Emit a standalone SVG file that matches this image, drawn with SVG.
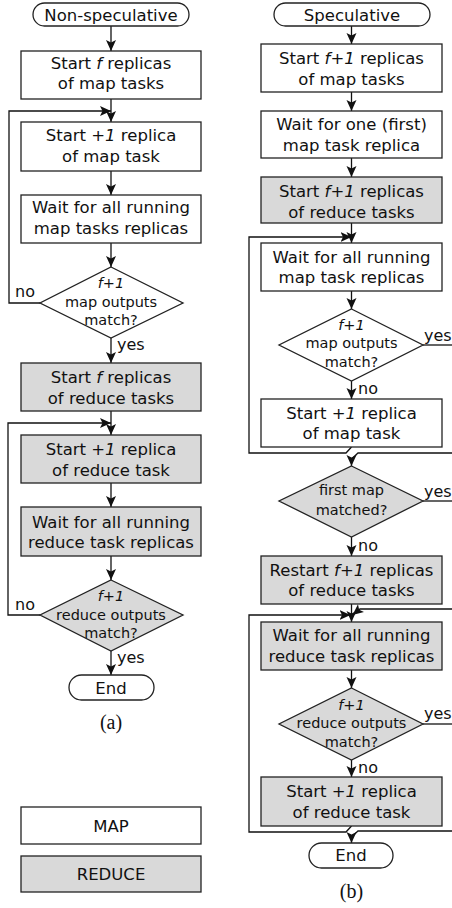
<svg xmlns="http://www.w3.org/2000/svg" width="452" height="908" viewBox="0 0 452 908">
<defs>
<marker id="ah" markerUnits="userSpaceOnUse" markerWidth="12" markerHeight="11" refX="11" refY="5" orient="auto" viewBox="0 0 12 11">
<path d="M0,0 L11,5 L0,10 L2.5,5 z" fill="#111"/>
</marker>
<style>
.b{fill:#fff;stroke:#222;stroke-width:1.3}
.g{fill:#d9d9d9;stroke:#222;stroke-width:1.3}
.t{font-family:"DejaVu Sans",sans-serif;font-size:16.5px;fill:#111;text-anchor:middle}
.d{font-family:"DejaVu Sans",sans-serif;font-size:14.5px;fill:#111;text-anchor:middle}
.l{font-family:"DejaVu Sans",sans-serif;font-size:16px;fill:#111}
.cap{font-family:"Liberation Serif",serif;font-size:20px;fill:#111;text-anchor:middle}
.c{fill:none;stroke:#111;stroke-width:1.3}
.a{marker-end:url(#ah)}
</style>
</defs>
<g id="connectors">
<path class="c a" d="M111,26 V51"/>
<path class="c a" d="M111,99 V122"/>
<path class="c a" d="M111,171 V195"/>
<path class="c a" d="M111,243 V267"/>
<path class="c a" d="M40,303 H9 V111 H111"/>
<path class="c a" d="M111,338 V363"/>
<path class="c a" d="M111,411 V435"/>
<path class="c a" d="M111,483 V507"/>
<path class="c a" d="M111,556 V580"/>
<path class="c a" d="M40,615 H8 V423 H111"/>
<path class="c a" d="M111,651 V675"/>
<path class="c a" d="M351.5,26 V44"/>
<path class="c a" d="M351.5,92 V111"/>
<path class="c a" d="M351.5,158 V177"/>
<path class="c a" d="M351.5,223 V243"/>
<path class="c a" d="M351.5,291 V309"/>
<path class="c" d="M423,345 H452"/>
<path class="c a" d="M351.5,381 V399"/>
<path class="c a" d="M351.5,447 L346,453 H249 V237 H351.5"/>
<path class="c a" d="M452,453 H358 L351.5,459 V466"/>
<path class="c" d="M423,501 H452"/>
<path class="c a" d="M351.5,537 V556"/>
<path class="c a" d="M351.5,604 V622"/>
<path class="c a" d="M452,609 H360 L352.5,615"/>
<path class="c a" d="M351.5,670 V688"/>
<path class="c" d="M423,724 H452"/>
<path class="c a" d="M351.5,760 V777"/>
<path class="c a" d="M351.5,826 L346,832 H249 V615 H350.5"/>
<path class="c a" d="M452,831 H358 L351.5,837 V843"/>
</g>
<g id="labels">
<text class="l" x="15" y="297">no</text>
<text class="l" x="117" y="350">yes</text>
<text class="l" x="15" y="610">no</text>
<text class="l" x="117" y="663">yes</text>
<text class="l" x="424" y="341">yes</text>
<text class="l" x="358" y="394">no</text>
<text class="l" x="424" y="497">yes</text>
<text class="l" x="358" y="551">no</text>
<text class="l" x="424" y="719">yes</text>
<text class="l" x="358" y="773">no</text>
</g>
<g id="nonspec">
<rect class="b" x="33" y="3" width="156" height="23" rx="11.5"/>
<text class="t" x="111" y="21">Non-speculative</text>
</g>
<g id="a1">
<rect class="b" x="21" y="51" width="180" height="48"/>
<text class="t" x="111" y="69">Start <tspan font-style="italic">f</tspan> replicas</text>
<text class="t" x="111" y="89">of map tasks</text>
</g>
<g id="a2">
<rect class="b" x="21" y="122" width="180" height="49"/>
<text class="t" x="111" y="141">Start <tspan font-style="italic">+1</tspan> replica</text>
<text class="t" x="111" y="162">of map task</text>
</g>
<g id="a3">
<rect class="b" x="21" y="195" width="180" height="48"/>
<text class="t" x="111" y="213">Wait for all running</text>
<text class="t" x="111" y="234">map tasks replicas</text>
</g>
<g id="a4">
<polygon class="b" points="111,267 183,303 111,338 40,303"/>
<text class="d" x="111" y="288" font-style="italic">f+1</text>
<text class="d" x="111" y="307">map outputs</text>
<text class="d" x="111" y="325">match?</text>
</g>
<g id="a5">
<rect class="g" x="21" y="363" width="180" height="48"/>
<text class="t" x="111" y="383">Start <tspan font-style="italic">f</tspan> replicas</text>
<text class="t" x="111" y="404">of reduce tasks</text>
</g>
<g id="a6">
<rect class="g" x="21" y="435" width="180" height="48"/>
<text class="t" x="111" y="455">Start <tspan font-style="italic">+1</tspan> replica</text>
<text class="t" x="111" y="476">of reduce task</text>
</g>
<g id="a7">
<rect class="g" x="21" y="507" width="180" height="49"/>
<text class="t" x="111" y="528">Wait for all running</text>
<text class="t" x="111" y="548">reduce task replicas</text>
</g>
<g id="a8">
<polygon class="g" points="111,580 183,615 111,651 40,615"/>
<text class="d" x="111" y="601" font-style="italic">f+1</text>
<text class="d" x="111" y="620">reduce outputs</text>
<text class="d" x="111" y="638">match?</text>
</g>
<g id="aend">
<rect class="b" x="69" y="675" width="85" height="25" rx="12.5"/>
<text class="t" x="111" y="694">End</text>
</g>
<text class="cap" x="111" y="729">(a)</text>
<g id="legend-map">
<rect class="b" x="21" y="807" width="180" height="37"/>
<text class="t" x="111" y="832">MAP</text>
</g>
<g id="legend-reduce">
<rect class="g" x="21" y="856" width="180" height="36"/>
<text class="t" x="111" y="880">REDUCE</text>
</g>
<g id="spec">
<rect class="b" x="274" y="3" width="156" height="23" rx="11.5"/>
<text class="t" x="352" y="21">Speculative</text>
</g>
<g id="b1">
<rect class="b" x="261" y="44" width="181" height="48"/>
<text class="t" x="351.5" y="64">Start <tspan font-style="italic">f+1</tspan> replicas</text>
<text class="t" x="351.5" y="85">of map tasks</text>
</g>
<g id="b2">
<rect class="b" x="261" y="111" width="181" height="47"/>
<text class="t" x="351.5" y="130">Wait for one (first)</text>
<text class="t" x="351.5" y="151">map task replica</text>
</g>
<g id="b3">
<rect class="g" x="261" y="177" width="181" height="46"/>
<text class="t" x="351.5" y="197">Start <tspan font-style="italic">f+1</tspan> replicas</text>
<text class="t" x="351.5" y="218">of reduce tasks</text>
</g>
<g id="b4">
<rect class="b" x="261" y="243" width="181" height="48"/>
<text class="t" x="351.5" y="263">Wait for all running</text>
<text class="t" x="351.5" y="283">map task replicas</text>
</g>
<g id="b5">
<polygon class="b" points="351.5,309 423,345 351.5,381 279,345"/>
<text class="d" x="351.5" y="330" font-style="italic">f+1</text>
<text class="d" x="351.5" y="348">map outputs</text>
<text class="d" x="351.5" y="367">match?</text>
</g>
<g id="b6">
<rect class="b" x="261" y="399" width="181" height="48"/>
<text class="t" x="351.5" y="419">Start <tspan font-style="italic">+1</tspan> replica</text>
<text class="t" x="351.5" y="439">of map task</text>
</g>
<g id="b7">
<polygon class="g" points="351.5,466 423,501 351.5,537 279,501"/>
<text class="d" x="351.5" y="495">first map</text>
<text class="d" x="351.5" y="515">matched?</text>
</g>
<g id="b8">
<rect class="g" x="261" y="556" width="181" height="48"/>
<text class="t" x="351.5" y="576">Restart <tspan font-style="italic">f+1</tspan> replicas</text>
<text class="t" x="351.5" y="596">of reduce tasks</text>
</g>
<g id="b9">
<rect class="g" x="261" y="622" width="181" height="48"/>
<text class="t" x="351.5" y="641">Wait for all running</text>
<text class="t" x="351.5" y="662">reduce task replicas</text>
</g>
<g id="b10">
<polygon class="g" points="351.5,688 423,724 351.5,760 279,724"/>
<text class="d" x="351.5" y="710" font-style="italic">f+1</text>
<text class="d" x="351.5" y="728">reduce outputs</text>
<text class="d" x="351.5" y="747">match?</text>
</g>
<g id="b11">
<rect class="g" x="261" y="777" width="181" height="49"/>
<text class="t" x="351.5" y="797">Start <tspan font-style="italic">+1</tspan> replica</text>
<text class="t" x="351.5" y="818">of reduce task</text>
</g>
<g id="bend">
<rect class="b" x="309" y="843" width="84" height="25" rx="12.5"/>
<text class="t" x="351" y="861">End</text>
</g>
<text class="cap" x="351.5" y="898">(b)</text>
</svg>
